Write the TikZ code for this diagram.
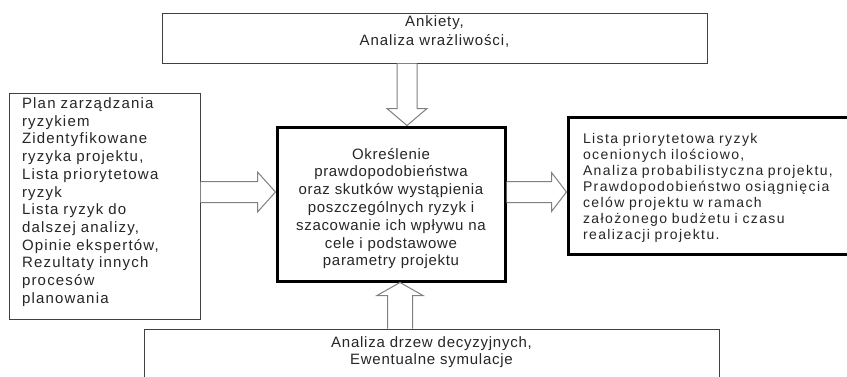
\documentclass[tikz,border=0pt]{standalone}
\usepackage{fontspec}
\setmainfont{Liberation Sans}
\usetikzlibrary{calc}

\tikzset{
  thinbox/.style={draw=black!75, line width=1pt, fill=white, inner sep=0pt},
  thickbox/.style={draw=black, line width=3pt, fill=white, inner sep=0pt},
  txt/.style={text=black!85, inner sep=0pt},
  barrow/.style={draw=black!50, line width=1pt, fill=white, line join=miter},
}
\newcommand\spaced[1]{\addfontfeatures{LetterSpace=#1}}

\begin{document}
\begin{tikzpicture}[x=1pt, y=-1pt]
  \clip (0,0) rectangle (847,376);
  \fill[white] (0,0) rectangle (847,376);

  % boxes
  \node[thinbox, minimum width=545pt, minimum height=50pt] (top) at (434.5,38) {};
  \node[txt, align=center, font=\fontsize{15}{19}\selectfont\spaced{6}] (toptxt)
        at ($(top.center)+(0,-6)$) {Ankiety,\\Analiza wrażliwości,};

  \node[thickbox, minimum width=228pt, minimum height=154pt] (ctr) at (391,204) {};
  \node[txt, align=center, font=\fontsize{15}{17.8}\selectfont\spaced{4.6}] (ctrtxt)
        at ($(ctr.center)+(0,4.5)$)
        {Określenie\\prawdopodobieństwa\\oraz skutków wystąpienia\\poszczególnych ryzyk i\\szacowanie ich wpływu na\\cele i podstawowe\\parametry projektu};

  \node[thinbox, minimum width=191pt, minimum height=226pt] (left) at (104.5,206) {};
  \node[txt, text width=165pt, align=left, font=\fontsize{15}{17.7}\selectfont\spaced{8}] (lefttxt)
        at ($(left.center)+(0,-4)$)
        {Plan zarządzania\\ryzykiem\\Zidentyfikowane\\ryzyka projektu,\\Lista priorytetowa\\ryzyk\\Lista ryzyk do\\dalszej analizy,\\Opinie ekspertów,\\Rezultaty innych\\procesów\\planowania};

  \node[thickbox, minimum width=292pt, minimum height=137pt] (right) at (714,186) {};
  \node[txt, text width=262pt, align=left, font=\fontsize{14}{16}\selectfont\spaced{10}] (righttxt)
        at ($(right.center)+(0,2)$)
        {Lista priorytetowa ryzyk\\ocenionych ilościowo,\\Analiza probabilistyczna projektu,\\Prawdopodobieństwo osiągnięcia\\celów projektu w ramach\\założonego budżetu i czasu\\realizacji projektu.};

  \node[thinbox, minimum width=575pt, minimum height=72pt] (bot) at (431.5,365) {};
  \node[txt, anchor=north, align=center, font=\fontsize{15}{16.5}\selectfont\spaced{5}] (bottxt)
        at ($(bot.north)+(0,8)$) {Analiza drzew decyzyjnych,\\Ewentualne symulacje};

  % block arrows
  \coordinate (ta) at (407,0 |- top.south);
  \coordinate (tb) at (407,0 |- ctr.north);
  \draw[barrow] ($(ta)+(-10,0)$) -- ($(tb)+(-10,-17)$) -- ($(tb)+(-20,-17)$) -- (tb)
     -- ($(tb)+(20,-17)$) -- ($(tb)+(10,-17)$) -- ($(ta)+(10,0)$);

  \coordinate (ba) at (400,0 |- bot.north);
  \coordinate (bb) at (400,0 |- ctr.south);
  \draw[barrow] ($(ba)+(-12.5,0)$) -- ($(bb)+(-12.5,13)$) -- ($(bb)+(-23,13)$) -- (bb)
     -- ($(bb)+(23,13)$) -- ($(bb)+(12.5,13)$) -- ($(ba)+(12.5,0)$);

  \coordinate (la) at (left.east |- 0,192);
  \coordinate (lb) at (ctr.west |- 0,192);
  \draw[barrow] ($(la)+(0,-10.5)$) -- ($(lb)+(-18,-10.5)$) -- ($(lb)+(-18,-20)$) -- (lb)
     -- ($(lb)+(-18,20)$) -- ($(lb)+(-18,10.5)$) -- ($(la)+(0,10.5)$);

  \coordinate (ra) at (ctr.east |- 0,192);
  \coordinate (rb) at (right.west |- 0,192);
  \draw[barrow] ($(ra)+(0,-10.5)$) -- ($(rb)+(-15,-10.5)$) -- ($(rb)+(-15,-19.5)$) -- (rb)
     -- ($(rb)+(-15,19.5)$) -- ($(rb)+(-15,10.5)$) -- ($(ra)+(0,10.5)$);
\end{tikzpicture}
\end{document}
